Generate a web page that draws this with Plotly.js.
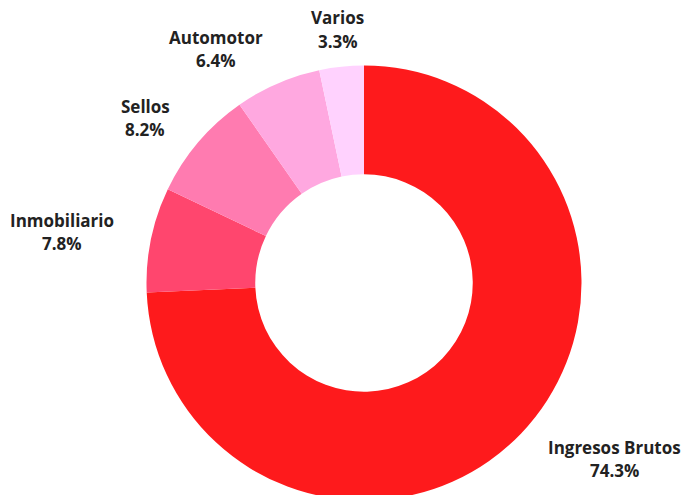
<!DOCTYPE html>
<html>
<head>
<meta charset="utf-8">
<script src="https://cdn.plot.ly/plotly-3.0.1.min.js"></script>
<style>html,body{margin:0;padding:0;background:#fff;overflow:hidden;}#chart{width:697px;height:505px;}</style>
</head>
<body>
<div id="chart"></div>
<script>
const labels = ['Ingresos Brutos', 'Inmobiliario', 'Sellos', 'Automotor', 'Varios'];
const values = [74.3, 7.8, 8.2, 6.4, 3.3];
const colors = ['#fe1a1c', '#ff466e', '#ff7bb0', '#ffa8e0', '#ffd2fe'];

const W = 697, H = 505;
const cx = 364, cy = 283, R = 217.5;
const FONT = 'Open Sans';
const FS = 17;
const LINE_GAP = 23.5;

const ctx = document.createElement('canvas').getContext('2d');
ctx.font = 'bold ' + FS + 'px "' + FONT + '"';

const total = values.reduce((a, b) => a + b, 0);
const annotations = [];
let cum = 0;
values.forEach((v, i) => {
  const mid = (cum + v / 2) / total;
  cum += v;
  const th = 2 * Math.PI * mid;
  const dx = Math.sin(th), dy = -Math.cos(th);
  const rr = R * 1.172;
  const px = cx + rr * dx, py = cy + rr * dy;
  const pct = (v / total * 100).toFixed(1) + '%';
  const wBox = Math.max(ctx.measureText(labels[i]).width, ctx.measureText(pct).width);
  let xc;
  if (Math.abs(dx) < 0.2) xc = px;
  else if (dx > 0) xc = px + wBox / 2;
  else xc = px - wBox / 2;
  const y1 = py - LINE_GAP / 2;
  const y2 = py + LINE_GAP / 2;
  [[labels[i], y1], [pct, y2]].forEach(([t, yy]) => {
    annotations.push({
      text: '<b>' + t + '</b>',
      x: xc / W, y: 1 - yy / H,
      xref: 'paper', yref: 'paper',
      xanchor: 'center', yanchor: 'middle',
      showarrow: false,
      font: {family: FONT, size: FS, color: '#222222'}
    });
  });
});

const data = [{
  type: 'pie',
  labels: labels,
  values: values,
  hole: 0.5,
  sort: false,
  direction: 'clockwise',
  rotation: 0,
  textinfo: 'none',
  hoverinfo: 'label+percent',
  marker: {colors: colors, line: {width: 0}},
  domain: {x: [(cx - R) / W, (cx + R) / W], y: [(H - cy - R) / H, (H - cy + R) / H]},
  showlegend: false
}];

const layout = {
  width: W, height: H,
  margin: {l: 0, r: 0, t: 0, b: 0},
  paper_bgcolor: '#ffffff',
  plot_bgcolor: '#ffffff',
  showlegend: false,
  annotations: annotations
};

Plotly.newPlot('chart', data, layout, {displayModeBar: false, staticPlot: true});
</script>
</body>
</html>
